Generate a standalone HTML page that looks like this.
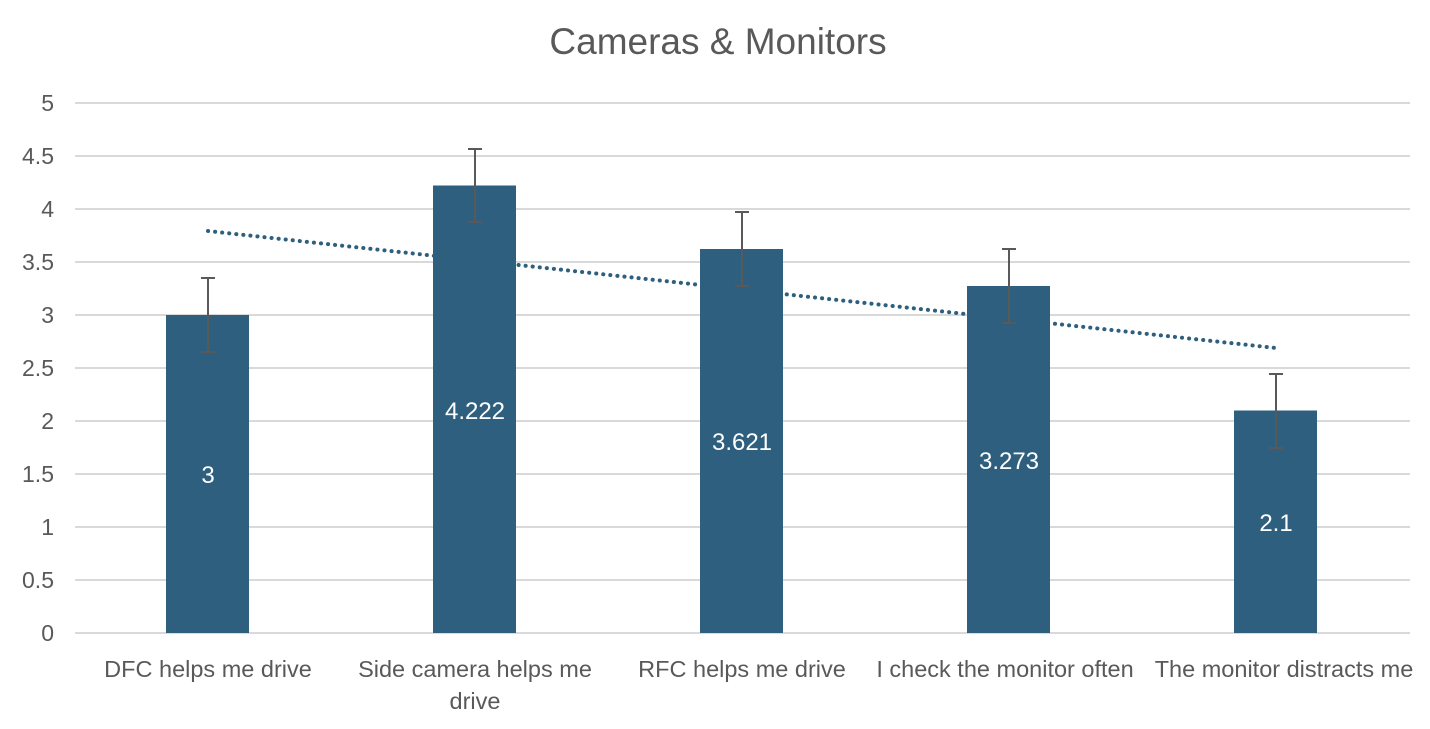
<!DOCTYPE html>
<html><head><meta charset="utf-8"><style>body{margin:0;background:#fff}</style></head><body>
<svg width="1430" height="724" xmlns="http://www.w3.org/2000/svg" font-family="Liberation Sans, sans-serif">
<rect width="1430" height="724" fill="#fff"/>
<text x="718" y="54" text-anchor="middle" font-size="37" fill="#595959">Cameras &amp; Monitors</text>
<g stroke="#d9d9d9" stroke-width="2">
<line x1="75" x2="1410" y1="103" y2="103"/><line x1="75" x2="1410" y1="156" y2="156"/>
<line x1="75" x2="1410" y1="209" y2="209"/><line x1="75" x2="1410" y1="262" y2="262"/>
<line x1="75" x2="1410" y1="315" y2="315"/><line x1="75" x2="1410" y1="368" y2="368"/>
<line x1="75" x2="1410" y1="421" y2="421"/><line x1="75" x2="1410" y1="474" y2="474"/>
<line x1="75" x2="1410" y1="527" y2="527"/><line x1="75" x2="1410" y1="580" y2="580"/>
<line x1="75" x2="1410" y1="633" y2="633"/>
</g>
<g font-size="23" fill="#595959" text-anchor="end">
<text x="54" y="111">5</text><text x="54" y="164">4.5</text><text x="54" y="217">4</text>
<text x="54" y="270">3.5</text><text x="54" y="323">3</text><text x="54" y="376">2.5</text>
<text x="54" y="429">2</text><text x="54" y="482">1.5</text><text x="54" y="535">1</text>
<text x="54" y="588">0.5</text><text x="54" y="641">0</text>
</g>
<g fill="#2e5f7e">
<rect x="166" y="315" width="83" height="318"/>
<rect x="433" y="185.5" width="83" height="447.5"/>
<rect x="700" y="249" width="83" height="384"/>
<rect x="967" y="286" width="83" height="347"/>
<rect x="1234" y="410.5" width="83" height="222.5"/>
</g>
<line x1="208" y1="231" x2="1276" y2="348" stroke="#2e5f7e" stroke-width="4" stroke-dasharray="0.1 7" stroke-linecap="round"/>
<g stroke="#595959" stroke-width="2" fill="none">
<path d="M208 278V352M201 278H215M201 352H215"/>
<path d="M475 149V222M468 149H482M468 222H482"/>
<path d="M742 212V286M735 212H749M735 286H749"/>
<path d="M1009 249V323M1002 249H1016M1002 323H1016"/>
<path d="M1276 374V448M1269 374H1283M1269 448H1283"/>
</g>
<g font-size="24" fill="#fff" text-anchor="middle">
<text x="208" y="483">3</text><text x="475" y="419">4.222</text><text x="742" y="450">3.621</text>
<text x="1009" y="469">3.273</text><text x="1276" y="531">2.1</text>
</g>
<g font-size="23.5" fill="#595959" text-anchor="middle">
<text x="208" y="677">DFC helps me drive</text>
<text x="475" y="677">Side camera helps me</text><text x="475" y="709">drive</text>
<text x="742" y="677">RFC helps me drive</text>
<text x="1005" y="677">I check the monitor often</text>
<text x="1284" y="677">The monitor distracts me</text>
</g>
</svg>
</body></html>
